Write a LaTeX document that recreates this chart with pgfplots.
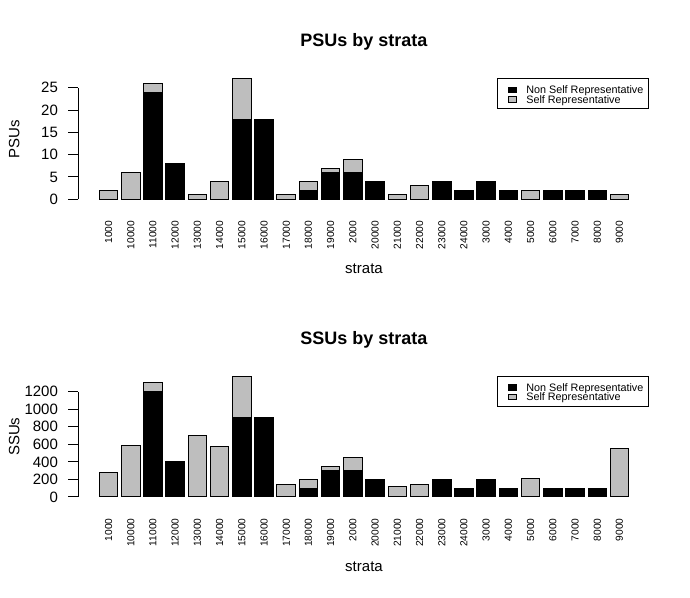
\documentclass[border=0pt]{standalone}
\usepackage{pgfplots}
\pgfplotsset{compat=1.18}
\usepackage{pgfplotstable}
\usepackage{fontspec}
\setmainfont{Liberation Sans}
\definecolor{rgray}{HTML}{BEBEBE}

\pgfplotstableread{
idx non self
1 0 2
2 0 6
3 24 2
4 8 0
5 0 1
6 0 4
7 18 9
8 18 0
9 0 1
10 2 2
11 6 1
12 6 3
13 4 0
14 0 1
15 0 3
16 4 0
17 2 0
18 4 0
19 2 0
20 0 2
21 2 0
22 2 0
23 2 0
24 0 1
}\psu

\pgfplotstableread{
idx non self
1 0 280
2 0 590
3 1200 100
4 400 0
5 0 700
6 0 580
7 900 470
8 900 0
9 0 145
10 100 100
11 300 50
12 300 150
13 200 0
14 0 120
15 0 145
16 200 0
17 100 0
18 200 0
19 100 0
20 0 215
21 100 0
22 100 0
23 100 0
24 0 550
}\ssu

\pgfplotsset{
  every axis title/.style={at={(0.5,1.2108)}, anchor=base, inner sep=0pt, font=\fontsize{18}{21}\selectfont\bfseries},
  rbar/.style={
    width=571.8pt, height=130pt, scale only axis,
    xmin=-0.37, xmax=25.37,
    axis x line*=bottom, axis y line*=left,
    x axis line style={draw=none}, y axis line style={draw=none},
    ybar stacked, bar width=0.8333,
    xtick={1,...,24},
    xticklabels={1000,10000,11000,12000,13000,14000,15000,16000,17000,18000,19000,2000,20000,21000,22000,23000,24000,3000,4000,5000,6000,7000,8000,9000},
    xtick style={draw=none},
    x tick label style={yshift=-6.5pt, rotate=90, anchor=east, inner sep=0pt, font=\fontsize{10.2}{12}\selectfont},
    tick align=outside, major tick length=10pt,
    ytick style={line width=1pt, black},
    y tick label style={anchor=east, inner sep=0pt, xshift=-10pt, font=\fontsize{15}{17}\selectfont},
    /pgf/number format/assume math mode=true,
    /pgf/number format/1000 sep={},
    xlabel style={at={(axis description cs:0.5,-0.5377)}, anchor=base, font=\fontsize{15}{18}\selectfont},
    ylabel style={at={(axis description cs:-0.1028,0.5)}, anchor=base, rotate=0, font=\fontsize{15}{18}\selectfont},
    xlabel={strata},
    legend style={at={(1,1)}, anchor=north east, xshift=-0.7pt, yshift=-4.2pt,
      draw=black, line width=1pt, inner xsep=5.3pt, inner ysep=5.7pt,
      font=\fontsize{10.8}{9.3}\selectfont,
      nodes={inner sep=0pt, text height=9.3pt, text depth=0pt},
      column sep=9.6pt, row sep=0pt},
    legend cell align=left,
  },
  nsr/.style={fill=black, draw=black, line width=1pt,
    legend image code/.code={\path (-4.7pt,0pt); \draw[fill=black, line width=0.8pt] (0pt,-3.6pt) rectangle (8.4pt,2.1pt);}},
  sr/.style={fill=rgray, draw=black, line width=1pt,
    legend image code/.code={\path (-4.7pt,0pt); \draw[fill=rgray, line width=0.8pt] (0pt,-3.6pt) rectangle (8.4pt,2.1pt);}},
}

\begin{document}
\begin{tikzpicture}[x=1pt,y=1pt]
\useasboundingbox (0pt,0pt) rectangle (690pt,597pt);
\begin{axis}[rbar, at={(78.1pt,392.9pt)}, anchor=south west,
  ymin=-1.08, ymax=28.08, ytick={0,5,10,15,20,25},
  title={PSUs by strata}, ylabel={PSUs}]
\addplot[nsr] table[x=idx,y=non]{\psu};
\addplot[sr] table[x=idx,y=self]{\psu};
\legend{Non Self Representative, Self Representative}
\draw[line width=1pt] (axis cs:-0.37,0) -- (axis cs:-0.37,25);
\end{axis}
\begin{axis}[rbar, at={(78.1pt,95.2pt)}, anchor=south west,
  ymin=-54.8, ymax=1424.8, ytick={0,200,400,600,800,1000,1200},
  title={SSUs by strata}, ylabel={SSUs}]
\addplot[nsr] table[x=idx,y=non]{\ssu};
\addplot[sr] table[x=idx,y=self]{\ssu};
\legend{Non Self Representative, Self Representative}
\draw[line width=1pt] (axis cs:-0.37,0) -- (axis cs:-0.37,1200);
\end{axis}
\end{tikzpicture}
\end{document}
